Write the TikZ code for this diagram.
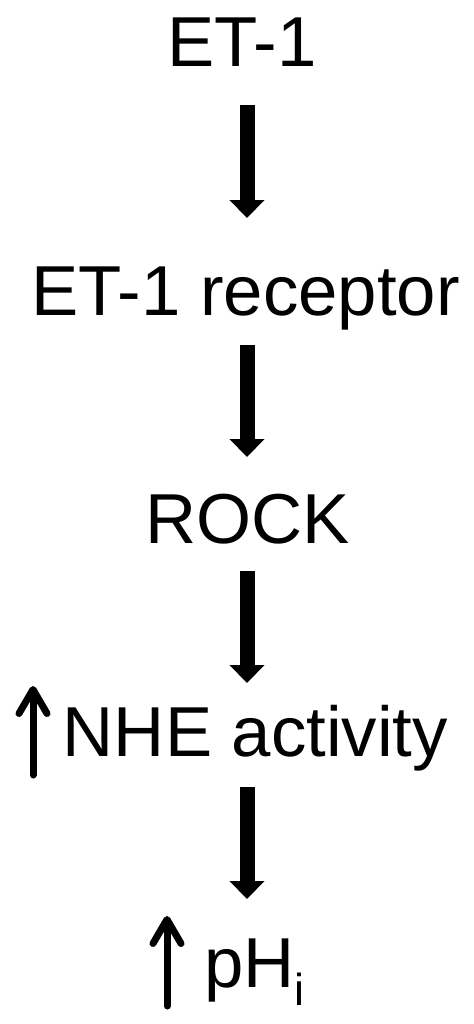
\documentclass[tikz,border=0pt]{standalone}
\usepackage{fontspec}
\setmainfont{Liberation Sans}
\usetikzlibrary{arrows.meta}
\begin{document}
\begin{tikzpicture}[x=1bp,y=-1bp,
  lbl/.style={anchor=base, inner sep=0pt, font=\fontsize{71}{71}\selectfont},
  bigarrow/.style={line width=15bp, -{Triangle[length=18bp,width=34bp]}},
  uparrow/.style={line width=7bp, line cap=round, -{Straight Barb[length=24bp,width=28bp,round]}}]
\useasboundingbox (0,0) rectangle (474,1024);
\node[lbl] (et1) at (242,66) {ET-1};
\node[lbl] (rec) at (245.5,315) {ET-1 receptor};
\node[lbl] (rock) at (248,543) {ROCK};
\node[lbl] (nhe) at (255.5,756) {NHE activity};
\node[lbl, anchor=base west] (ph) at (204,987) {pH\raisebox{-18bp}{\fontsize{45}{45}\selectfont i}};
% big arrows
\coordinate (a1s) at (247,105); \coordinate (a1e) at (247,218);
\coordinate (a2s) at (247,345); \coordinate (a2e) at (247,457);
\coordinate (a3s) at (247,571); \coordinate (a3e) at (247,683);
\coordinate (a4s) at (247,787); \coordinate (a4e) at (247,899);
\draw[bigarrow] (a1s) -- (a1e);
\draw[bigarrow] (a2s) -- (a2e);
\draw[bigarrow] (a3s) -- (a3e);
\draw[bigarrow] (a4s) -- (a4e);
% up arrows
\coordinate (u1s) at (33,775); \coordinate (u1e) at (33,686);
\coordinate (u2s) at (167,1006); \coordinate (u2e) at (167,916);
\draw[uparrow] (u1s) -- (u1e);
\draw[uparrow] (u2s) -- (u2e);
\end{tikzpicture}
\end{document}
